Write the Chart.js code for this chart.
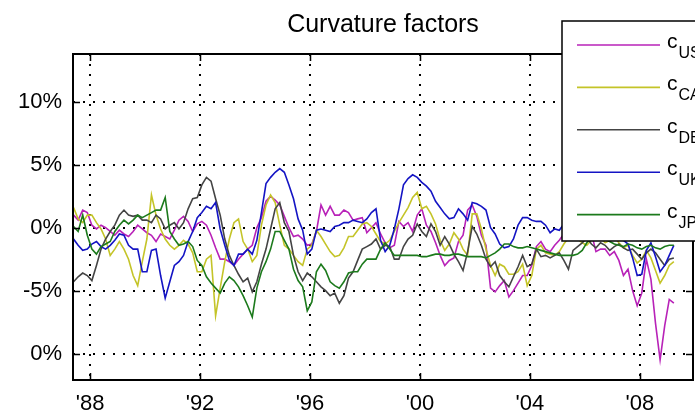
<!DOCTYPE html>
<html>
<head>
<meta charset="utf-8">
<script src="https://cdn.jsdelivr.net/npm/chart.js@4"></script>
<style>
  html, body { margin: 0; padding: 0; background: #fff; overflow: hidden; }
  #wrap { width: 695px; height: 417px; }
</style>
</head>
<body>
<div id="wrap"><canvas id="chart" width="695" height="417"></canvas></div>
<script>
const seriesNames = ["US", "CA", "DE", "UK", "JP"];
const seriesColors = ["#b822b8", "#c4c428", "#444444", "#1414c4", "#1c7a1c"];
const yTicks = [-10, -5, 0, 5, 10];
const yTickLabels = ["0%", "-5%", "0%", "5%", "10%"];
const xTicks = [1988, 1992, 1996, 2000, 2004, 2008];
const xTickLabels = ["'88", "'92", "'96", "'00", "'04", "'08"];

// one reading every two months, starting mid 1987
const firstDate = 1987.4;
const stepYears = 1 / 6;

const cUS = [1.0, 0.6, 1.4, 1.2, 0.2, -0.1, 0.2, 0.0, -0.3, -0.6, -0.2, -0.5, -0.7, -0.3, 0.2, -0.1, -0.4, -0.6, -1.1, -0.5, -0.7, -0.9, -0.2, 0.6, 0.9, 0.5, -0.3,
  0.3, 0.5, 0.2, -0.6, -1.6, -2.5, -2.5, -2.7, -3.0, -2.5, -2.1, -1.7, -1.4, 0.0, 0.8, 2.1, 2.5, 2.2, 1.8, 0.9, 0.0, -0.7, -0.6, -0.9,
  -1.4, -1.3, -0.3, 1.8, 1.0, 1.7, 1.0, 1.0, 1.4, 1.2, 0.6, 0.7, 0.8, -0.4, 0.0, 0.4, -0.5, -1.2, -1.6, -1.4, 0.5, 0.1, 0.4, -0.3,
  1.0, 1.5, 0.2, -0.3, -1.2, -2.2, -3.0, -2.6, -2.4, -1.1, -0.6, 1.4, 1.8, 0.9, -0.6, -1.4, -4.8, -5.1, -4.6, -4.2, -5.5, -5.0, -4.4, -3.8,
  -3.8, -3.0, -1.5, -1.1, -1.7, -1.9, -1.4, -1.0, -0.5, 0.2, 0.5, 0.1, -0.2, 0.3, -0.4, -1.9, -1.7, -1.7, -2.2, -1.9, -2.6, -3.8, -3.3, -5.0,
  -6.2, -5.2, -2.5, -4.1, -7.6, -10.5, -7.8, -5.7, -6.0];

const cCA = [1.6, 0.7, 0.4, 1.0, 1.0, 0.4, -0.1, -0.9, -2.2, -1.7, -1.1, -1.7, -2.5, -3.8, -4.6, -2.7, -0.9, 2.6, 1.0, -0.1, -0.9, -1.4, -1.7, -1.4, -1.0, -1.3, -2.0,
  -3.5, -3.5, -2.5, -2.2, -7.0, -4.8, -2.7, -0.9, 0.4, 0.7, -1.1, -1.7, -2.7, -2.2, 0.2, 1.8, 2.6, 2.0, 0.2, -1.4, -1.7, -2.2, -2.7, -3.0,
  -1.7, -1.4, -0.2, -0.7, -1.3, -1.9, -2.3, -2.2, -1.6, -0.7, -0.7, -0.2, 0.3, 0.4, 0.1, -0.5, -1.1, -1.3, -1.0, -0.3, 0.4, 1.0, 1.6, 2.4,
  2.8, 1.5, 1.7, 1.1, 0.3, -1.0, -1.8, -1.3, -0.4, -0.9, -1.7, -2.2, 1.1, 1.1, -0.1, -1.7, -3.0, -3.8, -2.9, -3.1, -3.7, -3.7, -3.5, -2.9,
  -4.6, -3.8, -1.7, -1.4, -2.0, -2.1, -2.2, -1.9, -1.3, -0.8, -0.5, -0.9, -1.2, -1.4, -1.0, -0.6, -0.8, -1.2, -1.0, -0.7, -1.2, -1.6, -1.4, -2.2,
  -2.8, -2.5, -1.8, -2.4, -3.4, -4.4, -3.8, -3.0, -2.7];

const cDE = [-4.3, -3.9, -3.6, -3.8, -4.2, -3.0, -1.7, -0.9, -0.3, 0.2, 1.0, 1.4, 1.0, 0.9, 1.0, 0.6, 0.6, 0.4, 1.0, 0.7, -0.1, 0.2, 0.4, -0.1, 0.4, 1.5, 2.3,
  2.4, 3.4, 4.0, 3.7, 2.3, 1.0, -0.9, -2.2, -3.0, -3.7, -4.3, -4.0, -5.1, -4.3, -2.9, -1.7, -0.1, 1.5, 2.0, 0.4, -0.3, -2.2, -3.5, -4.2,
  -3.6, -3.9, -4.3, -4.7, -5.0, -5.4, -5.2, -6.0, -5.4, -4.0, -3.5, -2.6, -1.7, -1.5, -1.3, -0.9, -1.7, -1.4, -1.5, -2.5, -2.5, -1.5, -0.9, -0.6,
  0.3, -0.3, -0.7, 0.3, -0.3, -1.4, -0.7, -1.3, -2.1, -2.7, -3.4, -1.9, 0.1, -0.5, -1.4, -2.5, -3.1, -2.7, -3.8, -4.3, -4.7, -3.9, -3.1, -2.2,
  -3.1, -2.9, -1.7, -2.3, -2.2, -2.4, -2.2, -2.0, -2.6, -3.3, -1.8, -1.5, -1.2, -0.8, -1.3, -1.6, -1.2, -1.4, -1.8, -1.5, -1.3, -1.6, -1.8, -1.7,
  -2.1, -2.5, -2.0, -1.7, -2.0, -2.5, -3.0, -2.5, -2.4];

const cUK = [-0.9, -1.4, -1.8, -1.7, -1.3, -1.1, -1.5, -1.7, -1.4, -1.0, -0.5, -0.6, -1.4, -1.7, -1.7, -3.5, -3.5, -1.8, -1.7, -3.8, -5.6, -4.3, -3.0, -2.7, -2.2, -1.1, -0.3,
  0.8, 1.2, 1.7, 1.5, 2.0, -0.1, -1.4, -2.6, -3.0, -2.1, -2.1, -1.7, -2.1, -1.0, 1.2, 3.5, 4.0, 4.4, 4.7, 4.4, 3.4, 2.3, 0.7, -0.2,
  -2.1, -1.7, -0.2, -0.1, -0.2, -0.3, 0.1, 0.2, 0.4, 0.4, 0.6, 0.5, 0.4, 0.7, 1.2, 1.5, -1.0, -1.9, -1.4, -0.1, 1.5, 3.4, 3.9, 4.2,
  4.0, 3.6, 3.3, 2.9, 2.1, 1.6, 1.1, 0.7, 0.8, 1.5, 1.1, 0.6, 2.0, 1.9, 1.7, 1.4, 0.0, -0.5, -1.3, -1.6, -1.5, -0.9, 0.2, 0.8,
  0.8, 0.6, 0.5, 0.5, 0.2, -0.4, -0.1, -0.2, 0.3, 0.8, 1.0, 0.6, 0.9, 1.2, 0.7, 0.4, 0.6, 0.2, 0.0, -0.5, -0.9, -1.0, -1.3, -2.4,
  -3.8, -3.7, -1.8, -1.2, -2.3, -3.5, -3.0, -2.2, -1.4];

const cJP = [0.1, -0.3, 1.0, -0.6, -1.7, -2.1, -1.5, -1.3, -1.1, -0.3, 0.2, 0.6, 0.3, 0.6, 1.0, 0.8, 1.0, 1.2, 1.4, 1.4, 2.4, -0.3, -0.9, -1.4, -1.3, -1.1, -1.5,
  -2.6, -3.0, -3.9, -4.4, -4.8, -5.2, -4.4, -3.9, -4.2, -4.7, -5.4, -6.2, -7.1, -4.8, -3.5, -2.7, -1.7, -0.3, -0.3, -1.0, -1.7, -3.3, -4.2, -4.7,
  -6.6, -5.9, -3.5, -2.9, -3.4, -4.3, -4.6, -4.8, -4.3, -3.6, -3.5, -3.5, -2.9, -2.5, -2.5, -2.5, -1.7, -1.2, -1.7, -2.2, -2.2, -2.2, -2.2, -2.2,
  -2.2, -2.3, -2.3, -2.2, -2.1, -2.1, -2.2, -2.2, -2.1, -2.1, -2.2, -2.3, -2.3, -2.3, -2.3, -2.4, -2.2, -2.0, -1.7, -1.3, -1.3, -1.5, -1.6, -1.6,
  -1.5, -1.6, -1.7, -1.8, -1.9, -2.0, -2.1, -2.2, -2.2, -2.2, -2.2, -2.1, -1.8, -1.2, -0.8, -0.6, -0.7, -0.9, -1.1, -1.3, -1.4, -1.5, -1.3, -1.4,
  -1.6, -1.7, -1.5, -1.4, -1.6, -1.7, -1.5, -1.4, -1.4];

const allSeries = [cUS, cCA, cDE, cUK, cJP];
const FONT = "'Liberation Sans', Arial, sans-serif";

function toPoints(values) {
  return values.map((v, i) => ({ x: firstDate + i * stepYears, y: v }));
}

/* axes box, inner tick marks, title and the boxed legend */
const decor = {
  id: "decor",
  afterDraw(chart) {
    const { ctx, chartArea: a, scales } = chart;
    const x = scales.x, y = scales.y;
    ctx.save();
    ctx.strokeStyle = "#000";
    ctx.lineWidth = 1.5;
    ctx.setLineDash([]);
    ctx.beginPath();
    xTicks.forEach(v => {
      const px = Math.round(x.getPixelForValue(v)) + 0.5;
      ctx.moveTo(px, a.bottom); ctx.lineTo(px, a.bottom - 7);
      ctx.moveTo(px, a.top); ctx.lineTo(px, a.top + 7);
    });
    yTicks.forEach(v => {
      const py = Math.round(y.getPixelForValue(v)) + 0.5;
      ctx.moveTo(a.left, py); ctx.lineTo(a.left + 7, py);
      ctx.moveTo(a.right, py); ctx.lineTo(a.right - 7, py);
    });
    ctx.stroke();
    ctx.lineWidth = 2;
    ctx.strokeRect(a.left, a.top, a.right - a.left, a.bottom - a.top);

    ctx.fillStyle = "#000";
    ctx.font = "25px " + FONT;
    ctx.textAlign = "center";
    ctx.textBaseline = "alphabetic";
    ctx.fillText("Curvature factors", (a.left + a.right) / 2, 32);

    // legend box, runs past the right edge like the original
    const lx = 562, ly = 21, lh = 220;
    ctx.fillStyle = "#fff";
    ctx.fillRect(lx, ly, 200, lh);
    ctx.lineWidth = 1.5;
    ctx.strokeRect(lx, ly, 200, lh);
    seriesNames.forEach((name, i) => {
      const ry = 45 + i * 42.4;
      ctx.strokeStyle = seriesColors[i];
      ctx.lineWidth = 1.6;
      ctx.beginPath();
      ctx.moveTo(577, ry); ctx.lineTo(660, ry);
      ctx.stroke();
      ctx.fillStyle = "#000";
      ctx.textAlign = "left";
      ctx.font = "21px " + FONT;
      ctx.fillText("c", 667, ry + 3);
      const cw = ctx.measureText("c").width;
      ctx.font = "16px " + FONT;
      ctx.fillText(name, 667 + cw + 1, ry + 13);
    });
    ctx.restore();
  }
};

const datasets = allSeries.map((vals, i) => ({
  label: "c" + seriesNames[i],
  data: toPoints(vals),
  borderColor: seriesColors[i],
  borderWidth: 1.6,
  pointRadius: 0,
  tension: 0,
  order: allSeries.length - i
}));

new Chart(document.getElementById("chart"), {
  type: "line",
  data: { datasets },
  options: {
    responsive: false,
    animation: false,
    layout: { padding: { top: 54, right: 2, left: 0, bottom: 0 } },
    plugins: { legend: { display: false }, title: { display: false }, tooltip: { enabled: false } },
    scales: {
      x: {
        type: "linear",
        min: 1987.38,
        max: 2009.93,
        afterFit(s) { s.height = 37; },
        afterBuildTicks(s) { s.ticks = xTicks.map(v => ({ value: v })); },
        ticks: {
          autoSkip: false,
          maxRotation: 0,
          padding: 11,
          color: "#000",
          font: { family: FONT, size: 22 },
          callback: v => xTickLabels[xTicks.indexOf(v)]
        },
        grid: { color: "#000", lineWidth: 2, drawTicks: false },
        border: { display: false, dash: [2, 8] }
      },
      y: {
        min: -12.1,
        max: 13.8,
        afterFit(s) { s.width = 73; },
        afterBuildTicks(s) { s.ticks = yTicks.map(v => ({ value: v })); },
        ticks: {
          padding: 11,
          color: "#000",
          font: { family: FONT, size: 22 },
          callback: v => yTickLabels[yTicks.indexOf(v)]
        },
        grid: { color: "#000", lineWidth: 2, drawTicks: false },
        border: { display: false, dash: [2, 8] }
      }
    }
  },
  plugins: [decor]
});
</script>
</body>
</html>
